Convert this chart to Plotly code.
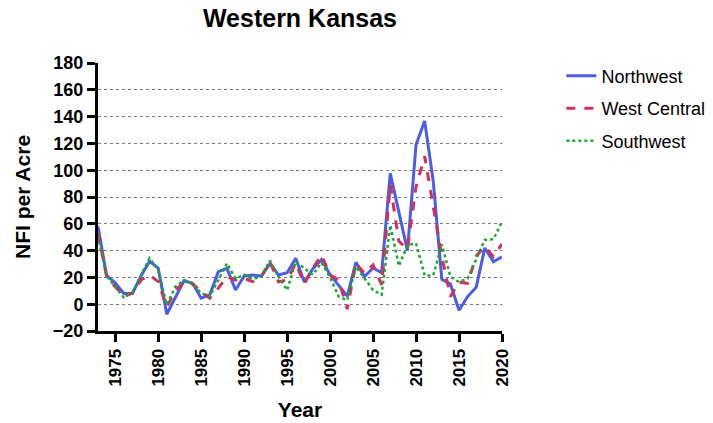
import plotly.graph_objects as go

years = list(range(1973, 2021))

northwest = [58, 21.5, 16, 8, 8, 21, 32, 27, -7.5, 5,
             17.5, 15.6, 4.5, 7, 24.3, 26.8, 10.6, 21, 21.8, 21,
             30.3, 21.8, 23.5, 34.3, 16.5, 26.5, 33.3, 22, 14, 6,
             31.3, 20.6, 27, 23.5, 97.6, 68, 40, 119, 136.8, 92,
             18.5, 15, -4.5, 5.7, 12.6, 42, 31.7, 35.3]

west_central = [53, 21, 13, 6, 8.2, 18, 21.8, 16.8, -2, 10,
                16.8, 15.2, 9.4, 4.5, 12, 20.6, 18, 19.3, 16.8, 20.6,
                31.7, 16.8, 18, 30.5, 15, 26.8, 36.7, 21.8, 18, -3.7,
                30.5, 23, 29.3, 14.4, 89, 47, 41, 87.6, 110.5, 72,
                35.5, 5.7, 16.5, 15.6, 36, 43, 35.5, 45]

southwest = [51, 21, 13, 5, 8.6, 21.8, 34.3, 25.5, -0.5, 13,
             18, 15.6, 8.2, 5.7, 18, 30.5, 19, 22, 19, 20.6,
             32.5, 20.6, 10.4, 32, 26.8, 22, 31, 20, 5.7, 3,
             28, 19, 10.6, 7, 59, 28.5, 44, 45.4, 21.5, 21.5,
             44.5, 20.6, 16.5, 19.2, 34, 48, 48.5, 61.5]

series_names = ["Northwest", "West Central", "Southwest"]
y_ticks = list(range(-20, 181, 20))
x_ticks = list(range(1975, 2021, 5))

FONT = "Liberation Sans, Arial, Helvetica, sans-serif"

fig = go.Figure()
fig.add_trace(go.Scatter(x=years, y=northwest, name=series_names[0], mode="lines",
                         line=dict(color="#4b5ce6", width=3), legendgroup="a"))
fig.add_trace(go.Scatter(x=years, y=west_central, name=series_names[1], mode="lines",
                         line=dict(color="#d0305c", width=3, dash="dash"), legendgroup="b"))
fig.add_trace(go.Scatter(x=years, y=southwest, name=series_names[2], mode="lines",
                         line=dict(color="#17a82e", width=2.5, dash="dot"), legendgroup="c"))

fig.update_layout(
    width=713, height=423,
    margin=dict(l=98, r=211, t=63, b=92, autoexpand=False),
    plot_bgcolor="white", paper_bgcolor="white",
    font=dict(family=FONT, color="black"),
    title=dict(text="Western Kansas", x=0.5, xref="paper", y=0.977, yanchor="top",
               font=dict(size=25, weight="bold", family=FONT)),
    legend=dict(x=1.147, y=1.02, xanchor="left", yanchor="top",
                font=dict(size=18, family=FONT), tracegroupgap=6,
                bgcolor="rgba(0,0,0,0)"),
    xaxis=dict(range=[1973, 2020], tickvals=x_ticks, ticktext=[str(t) for t in x_ticks],
               tickangle=-90, ticks="outside", ticklen=8, tickwidth=3, tickcolor="black",
               showline=True, linecolor="black", linewidth=3, showgrid=False, zeroline=False,
               automargin=False,
               tickfont=dict(size=17, weight="bold", family=FONT),
               title=dict(text="Year", font=dict(size=21, weight="bold", family=FONT), standoff=17)),
    yaxis=dict(range=[-20, 180], tickvals=y_ticks, ticks="outside", ticklen=8, tickwidth=3,
               tickcolor="black", showline=True, linecolor="black", linewidth=3,
               showgrid=True, gridcolor="#777777", gridwidth=1, griddash="dot", zeroline=False,
               automargin=False,
               tickfont=dict(size=18, weight="bold", family=FONT),
               title=dict(text="NFI per Acre", font=dict(size=21, weight="bold", family=FONT), standoff=17)),
)

fig.write_html("out.html", config={"displayModeBar": False},
               post_script="document.body.style.margin='0';")
